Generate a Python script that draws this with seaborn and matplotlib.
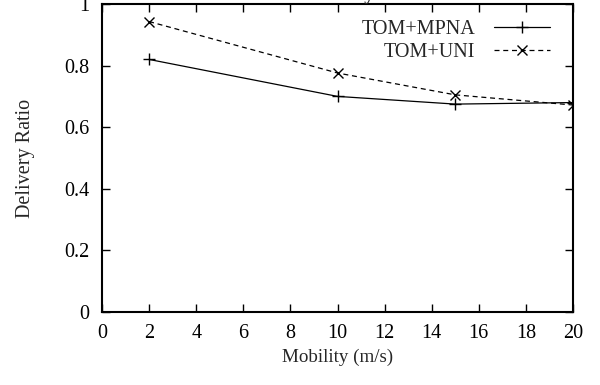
import matplotlib
matplotlib.use("Agg")
import matplotlib.pyplot as plt
import seaborn as sns
import pandas as pd

mobility = [2, 10, 15, 20]
tom_mpna = [0.82, 0.70, 0.675, 0.68]
tom_uni = [0.943, 0.776, 0.705, 0.672]
x_ticks = [0, 2, 4, 6, 8, 10, 12, 14, 16, 18, 20]
y_ticks = [0, 0.2, 0.4, 0.6, 0.8, 1.0]
y_tick_labels = ["0", "0.2", "0.4", "0.6", "0.8", "1"]

sns.set_style("ticks")
plt.rcParams['font.family'] = ['Liberation Serif', 'DejaVu Serif']

fig = plt.figure(figsize=(6.0, 3.85), dpi=100)
ax = fig.add_axes([102/600, 1 - 312/385, (573-102)/600, (312-4)/385])

df1 = pd.DataFrame({"x": mobility, "y": tom_mpna})
df2 = pd.DataFrame({"x": mobility, "y": tom_uni})
sns.lineplot(data=df1, x="x", y="y", ax=ax, color="black", lw=0.9,
             marker="+", markersize=8, markeredgewidth=1.0,
             markeredgecolor="black", label="TOM+MPNA")
sns.lineplot(data=df2, x="x", y="y", ax=ax, color="black", lw=0.9,
             marker="x", markersize=6.5, markeredgewidth=1.0,
             markeredgecolor="black", label="TOM+UNI")
ax.lines[1].set_dashes([4, 3])

ax.set_xlim(0, 20)
ax.set_ylim(0, 1)
ax.set_xticks(x_ticks)
ax.set_yticks(y_ticks)
ax.set_yticklabels(y_tick_labels)
ax.tick_params(direction="in", length=6, width=1, top=True, right=True,
               labelsize=14.5, pad=9, colors="black")
for s in ax.spines.values():
    s.set_linewidth(1.5)
    s.set_color("black")

ax.set_xlabel("Mobility (m/s)", fontsize=13.7, labelpad=4)
ax.set_ylabel("Delivery Ratio", fontsize=14.5, labelpad=21)
fig.text(337/600, 1 + 1.5/385, "Mobility", ha="center", va="baseline",
         fontsize=15, fontweight="bold")

leg = ax.legend(loc="upper right", frameon=False, markerfirst=False,
                handlelength=2.8, fontsize=14.5, borderaxespad=0,
                borderpad=0, labelspacing=0.2, handletextpad=0.9,
                bbox_to_anchor=(550/600, 1 - 20/385),
                bbox_transform=fig.transFigure)
for h in leg.legend_handles:
    h.set_color("black")
    h.set_markeredgecolor("black")
leg.legend_handles[1].set_dashes([4, 3])

fig.savefig("out.png", dpi=100)
